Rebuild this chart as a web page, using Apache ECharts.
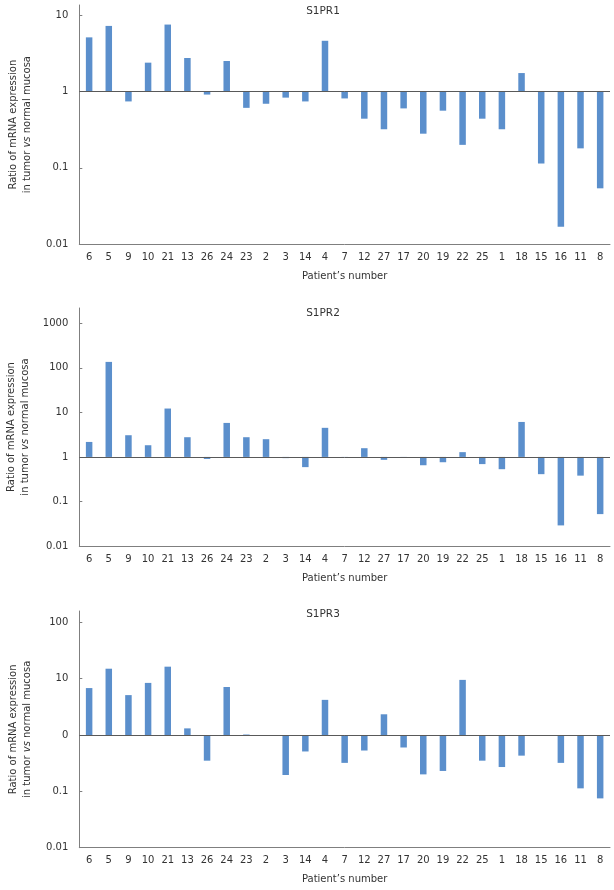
<!DOCTYPE html>
<html><head><meta charset="utf-8">
<script src="https://cdn.jsdelivr.net/npm/echarts@6/dist/echarts.min.js"></script>
<style>html,body{margin:0;padding:0;background:#fff}#c{width:614px;height:890px}</style>
</head><body><div id="c"></div>
<script>
// ---- data ----
const patients = ['6','5','9','10','21','13','26','24','23','2','3','14','4','7','12','27','17','20','19','22','25','1','18','15','16','11','8'];
const s1pr1 = [5.1, 7.2, 0.74, 2.38, 7.5, 2.74, 0.91, 2.5, 0.61, 0.69, 0.83, 0.74, 4.6, 0.81, 0.44, 0.32, 0.60, 0.28, 0.56, 0.20, 0.44, 0.32, 1.74, 0.114, 0.017, 0.18, 0.054];
const s1pr2 = [2.17, 136, 3.07, 1.83, 12.2, 2.77, 0.90, 5.8, 2.77, 2.5, 0.94, 0.59, 4.5, 0.98, 1.57, 0.86, 0.95, 0.65, 0.76, 1.28, 0.69, 0.53, 6.1, 0.41, 0.029, 0.38, 0.052];
const s1pr3 = [6.8, 15, 5.1, 8.4, 16.3, 1.31, 0.35, 7.1, 1.02, 0.97, 0.195, 0.51, 4.2, 0.32, 0.53, 2.33, 0.60, 0.20, 0.23, 9.5, 0.35, 0.27, 0.43, 0.99, 0.32, 0.113, 0.075];
const panelTitles = ['S1PR1', 'S1PR2', 'S1PR3'];
const s1pr1TickLabels = ['0.01', '0.1', '1', '10'];
const s1pr2TickLabels = ['0.01', '0.1', '1', '10', '100', '1000'];
const s1pr3TickLabels = ['0.01', '0.1', '0', '10', '100'];
const xAxisName = 'Patient\u2019s number';

// ---- layout / style ----
const FONT = 'DejaVu Sans';
const BAR = '#5b8fcc';
const AXIS = '#7f7f7f';
const TXT = '#333';

const panels = [
  {title: panelTitles[0], data: s1pr1, labels: s1pr1TickLabels, top: 5, bottom: 645.7, max: 13.52, titleTop: 1},
  {title: panelTitles[1], data: s1pr2, labels: s1pr2TickLabels, top: 308, bottom: 344, max: 2206, titleTop: 303},
  {title: panelTitles[2], data: s1pr3, labels: s1pr3TickLabels, top: 611, bottom: 42.3, max: 158.5, titleTop: 604}
];

const option = {
  backgroundColor: '#fff',
  animation: false,
  title: panels.map(p => ({
    text: p.title, left: 318, top: p.titleTop, textAlign: 'center',
    textStyle: {fontFamily: FONT, fontSize: 10.5, fontWeight: 'normal', color: TXT}
  })),
  grid: panels.map(p => ({left: 79.3, right: 4, top: p.top, bottom: p.bottom, containLabel: false, outerBoundsMode: 'none'})),
  xAxis: panels.map((p, i) => ({
    type: 'category', gridIndex: i, data: patients,
    axisLine: {show: true, lineStyle: {color: AXIS, width: 1}},
    axisTick: {show: false},
    axisLabel: {interval: 0, margin: 8, fontFamily: FONT, fontSize: 10, color: TXT},
    name: xAxisName, nameLocation: 'middle', nameGap: 27,
    nameTextStyle: {fontFamily: FONT, fontSize: 10, color: TXT}
  })),
  yAxis: panels.map((p, i) => ({
    type: 'log', gridIndex: i, logBase: 10, min: 0.01, max: p.max,
    splitLine: {show: false},
    axisLine: {show: true, lineStyle: {color: AXIS, width: 1}},
    axisTick: {show: true, inside: true, length: 3, lineStyle: {color: AXIS}},
    axisLabel: {
      showMaxLabel: false, margin: 11, fontFamily: FONT, fontSize: 10, color: TXT,
      formatter: v => {
        const e = Math.log10(v);
        if (Math.abs(e - Math.round(e)) > 1e-6) return '';
        return p.labels[Math.round(e) + 2] || '';
      }
    },
    name: '{a|Ratio of mRNA expression}\n{a|in tumor }{i|vs}{a| normal mucosa}',
    nameLocation: 'middle', nameRotate: 90, nameGap: 45,
    nameTextStyle: {
      fontFamily: FONT, fontSize: 10, color: TXT, lineHeight: 14,
      rich: {
        a: {fontFamily: FONT, fontSize: 10, color: TXT, lineHeight: 14},
        i: {fontFamily: FONT, fontSize: 10, color: TXT, lineHeight: 14, fontStyle: 'italic'}
      }
    }
  })),
  series: panels.map((p, i) => ({
    type: 'bar', xAxisIndex: i, yAxisIndex: i, data: p.data,
    barWidth: 6.5, itemStyle: {color: BAR},
    markLine: {
      silent: true, symbol: ['none', 'none'], label: {show: false},
      lineStyle: {color: '#595959', width: 1, type: 'solid'},
      data: [{yAxis: 1}]
    }
  }))
};

const chart = echarts.init(document.getElementById('c'), null, {renderer: 'canvas'});
chart.setOption(option);
</script>
</body></html>
